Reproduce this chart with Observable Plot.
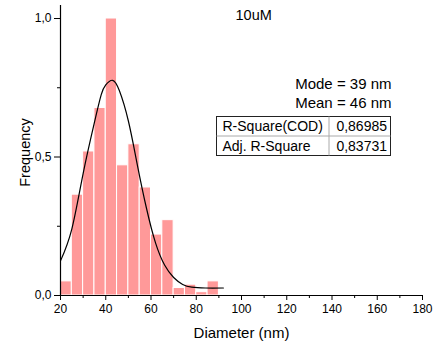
<!DOCTYPE html>
<html>
<head>
<meta charset="utf-8">
<script src="https://cdn.jsdelivr.net/npm/d3@7"></script>
<script src="https://cdn.jsdelivr.net/npm/@observablehq/plot@0.6"></script>
<style>
  html, body { margin: 0; padding: 0; background: #fff; }
  #chart svg { display: block; }
</style>
</head>
<body>
<div id="chart"></div>
<script>
// Histogram bins (nm) and normalized frequency
const binStart = [20, 25, 30, 35, 40, 45, 50, 55, 60, 65, 70, 75, 80, 85];
const binWidth = 5;
const frequency = [0.051, 0.364, 0.52, 0.677, 1.0, 0.47, 0.546, 0.39, 0.22, 0.272, 0.027, 0.039, 0.012, 0.051];

// Fitted curve, points
const fitX = [20, 25, 30, 35, 38, 40, 43, 46, 50, 54, 58, 62, 66, 70, 74, 78, 84, 92];
const fitY = [0.125, 0.24, 0.44, 0.625, 0.725, 0.76, 0.777, 0.74, 0.63, 0.47, 0.315, 0.19, 0.11, 0.065, 0.04, 0.03, 0.027, 0.027];

const xTicks = [20, 40, 60, 80, 100, 120, 140, 160, 180];
const xMinor = [30, 50, 70, 90, 110, 130, 150, 170];
const yTicks = [0, 0.5, 1.0];
const yMinor = [0.25, 0.75];

const title = "10uM";
const modeText = "Mode = 39 nm";
const meanText = "Mean = 46 nm";
const tableLabels = ["R-Square(COD)", "Adj. R-Square"];
const tableValues = ["0,86985", "0,83731"];

const bars = binStart.map((s, i) => ({x1: s, x2: s + binWidth, y: frequency[i]}));
const fit = fitX.map((x, i) => ({x, y: fitY[i]}));
const fmt = d => d3.format(".1f")(d).replace(".", ",");

const FONT = "'Liberation Sans', Arial, sans-serif";
const plot = Plot.plot({
  width: 437, height: 347,
  marginLeft: 60, marginRight: 15, marginTop: 5, marginBottom: 52,
  style: {fontFamily: FONT, fontSize: "12px", color: "#000", background: "#fff"},
  x: {domain: [20, 180]},
  y: {domain: [0, 1.047]},
  marks: [
    Plot.rectY(bars, {x1: "x1", x2: "x2", y: "y", fill: "#ff9999", stroke: "#fff", strokeWidth: 1}),
    Plot.line(fit, {x: "x", y: "y", curve: "natural", stroke: "#000", strokeWidth: 1.2}),
    Plot.axisX({ticks: xTicks, tickSize: 5, tickPadding: 4, tickFormat: d => d, label: null, fontSize: 12}),
    Plot.axisX({ticks: xMinor, tickSize: 3, tickFormat: () => "", label: null}),
    Plot.axisY({ticks: yTicks, tickSize: 6, tickPadding: 3, tickFormat: fmt, label: null, fontSize: 12}),
    Plot.axisY({ticks: yMinor, tickSize: 3, tickFormat: () => "", label: null}),
    Plot.ruleY([0], {stroke: "#000", strokeWidth: 1.2}),
    Plot.ruleX([20], {y1: 0, y2: 1.047, stroke: "#000", strokeWidth: 1.2}),
    Plot.text([title], {frameAnchor: "top-left", dx: 175, dy: 10, text: d => d, fontSize: 14.5, textAnchor: "start", lineAnchor: "middle"}),
    Plot.text([modeText], {frameAnchor: "top-left", dx: 331, dy: 79, text: d => d, fontSize: 15, textAnchor: "end", lineAnchor: "middle"}),
    Plot.text([meanText], {frameAnchor: "top-left", dx: 331, dy: 97.5, text: d => d, fontSize: 15, textAnchor: "end", lineAnchor: "middle"}),
    Plot.text(["Diameter (nm)"], {frameAnchor: "bottom", dy: 38, text: d => d, fontSize: 15, lineAnchor: "middle"}),
    Plot.text(["Frequency"], {frameAnchor: "left", dx: -35, dy: 2, rotate: -90, text: d => d, fontSize: 14.5, textAnchor: "middle", lineAnchor: "middle"})
  ]
});

// Statistics table (pixel layout inside the plot svg)
const svg = d3.select(plot);
const tbl = svg.append("g").attr("font-family", FONT).attr("font-size", 14).attr("fill", "#000");
const tX = 216.5, tY = 116.5, tW = 174, rowH = 19.5, colX = 329;
tbl.append("rect").attr("x", tX).attr("y", tY).attr("width", tW).attr("height", rowH * 2)
  .attr("fill", "#fff").attr("stroke", "#222").attr("stroke-width", 1);
tbl.append("line").attr("x1", tX).attr("x2", tX + tW).attr("y1", tY + rowH).attr("y2", tY + rowH).attr("stroke", "#aaa");
tbl.append("line").attr("x1", colX).attr("x2", colX).attr("y1", tY).attr("y2", tY + rowH * 2).attr("stroke", "#aaa");
tableLabels.forEach((lab, i) => {
  tbl.append("text").attr("x", tX + 6).attr("y", tY + rowH * i + rowH / 2).attr("dy", "0.35em")
    .attr("text-anchor", "start").text(lab);
  tbl.append("text").attr("x", tX + tW - 3.5).attr("y", tY + rowH * i + rowH / 2).attr("dy", "0.35em")
    .attr("text-anchor", "end").text(tableValues[i]);
});

document.getElementById("chart").appendChild(plot);
</script>
</body>
</html>
